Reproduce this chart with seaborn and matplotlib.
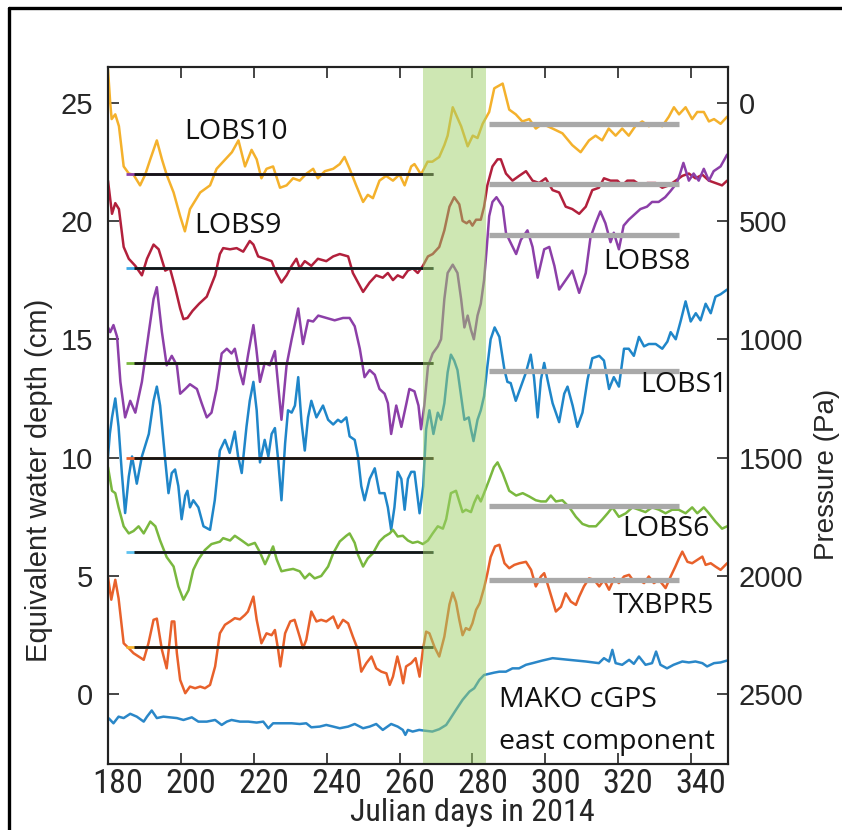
import numpy as np
import pandas as pd
import matplotlib
matplotlib.use("Agg")
import matplotlib.pyplot as plt
import matplotlib.transforms as mtransforms
from matplotlib import font_manager as fm
from matplotlib.textpath import TextPath
from matplotlib.lines import Line2D
import seaborn as sns

# ---------------- data ----------------
lobs10_day = [180.0, 180.6, 181.0, 182.0, 183.0, 184.3, 185.7, 187.0, 188.8, 190.2, 191.6, 193.4, 194.8, 196.1,
              198.0, 199.8, 201.1, 202.5, 205.3, 208.0, 209.8, 211.6, 214.0, 215.8, 217.6, 219.4, 220.8, 222.1,
              223.5, 225.3, 227.2, 229.0, 230.8, 232.6, 234.5, 236.3, 237.6, 239.5, 241.8, 243.6, 244.9, 246.3,
              248.1, 250.0, 251.3, 252.7, 254.5, 256.3, 258.2, 260.0, 261.4, 263.2, 264.1, 265.9, 267.7, 269.0,
              270.9, 272.3, 273.2, 274.6, 276.9, 278.7, 280.1, 281.4, 282.8, 284.6, 286.0, 288.3, 290.1, 291.9,
              293.7, 295.6, 297.4, 299.2, 302.0, 304.7, 307.4, 309.7, 312.0, 313.8, 315.6, 317.4, 319.3, 321.1,
              322.9, 324.7, 326.6, 328.4, 330.2, 332.1, 333.9, 335.3, 336.7, 338.5, 340.3, 341.7, 343.5, 344.9,
              346.3, 348.1, 349.9]
lobs10_val = [26.4, 25.0, 24.3, 24.5, 24.0, 22.3, 22.0, 21.95, 21.5, 21.95, 22.6, 23.4, 22.6, 21.95,
              21.2, 20.2, 19.56, 20.5, 21.2, 21.5, 22.2, 22.5, 22.9, 23.4, 22.3, 23.0, 22.6, 21.8,
              22.2, 22.3, 21.4, 21.5, 21.8, 21.7, 22.0, 22.2, 21.8, 22.1, 22.2, 22.4, 22.7, 22.2,
              21.5, 20.8, 21.1, 20.96, 21.7, 21.9, 21.7, 21.96, 21.5, 22.3, 22.4, 21.96, 22.5, 22.5,
              22.7, 23.2, 23.6, 24.8, 24.0, 23.15, 23.6, 23.5, 24.1, 24.6, 25.6, 25.8, 24.7, 24.5,
              24.2, 24.3, 23.9, 24.1, 23.9, 23.7, 23.2, 22.9, 23.4, 23.6, 23.4, 23.9, 23.6, 23.9,
              23.6, 24.0, 24.2, 24.0, 24.1, 24.0, 24.4, 24.8, 24.5, 24.8, 24.3, 24.6, 24.6, 24.2,
              24.3, 24.1, 24.4]

lobs9_day = [180.0, 181.1, 182.0, 183.0, 184.3, 185.7, 187.5, 189.3, 190.7, 192.5, 193.9, 195.7, 197.0, 198.4,
             199.8, 200.7, 201.8, 203.2, 205.0, 207.1, 209.4, 210.7, 211.6, 213.5, 215.3, 217.1, 218.9, 219.9,
             221.2, 223.1, 224.9, 226.2, 227.6, 229.0, 230.4, 231.7, 232.6, 234.0, 235.8, 237.6, 239.9, 241.8,
             243.6, 245.9, 247.2, 248.6, 250.0, 251.8, 253.6, 255.4, 256.8, 258.2, 259.5, 260.9, 262.3, 263.6,
             265.0, 266.4, 267.8, 269.1, 270.9, 272.3, 273.7, 275.0, 276.4, 277.3, 278.4, 279.2, 280.0, 281.0,
             282.3, 283.2, 284.1, 285.5, 286.9, 287.8, 289.2, 291.0, 292.8, 294.7, 296.5, 298.3, 300.1, 302.0,
             303.8, 305.6, 307.4, 309.3, 311.1, 312.9, 314.7, 316.1, 317.9, 319.8, 321.1, 322.5, 324.3, 326.2,
             328.0, 330.3, 332.1, 333.9, 335.8, 337.6, 339.4, 341.2, 343.1, 344.9, 346.7, 348.5, 349.9]
lobs9_val = [21.7, 20.3, 20.75, 20.5, 18.9, 18.4, 18.1, 17.7, 18.4, 19.0, 18.8, 17.9, 18.0, 17.2,
             16.3, 15.85, 15.9, 16.2, 16.5, 16.8, 17.7, 18.6, 18.85, 18.8, 18.85, 18.7, 19.15, 19.0,
             18.5, 18.4, 18.3, 17.8, 17.4, 17.7, 18.1, 18.4, 18.0, 18.3, 18.1, 18.4, 18.3, 18.5,
             18.6, 18.5, 17.8, 17.4, 17.0, 17.4, 17.7, 17.6, 17.8, 17.5, 17.7, 17.6, 17.9, 18.0,
             17.8, 18.1, 18.5, 18.6, 18.9, 19.6, 20.6, 21.0, 20.7, 20.0, 19.9, 20.0, 19.8, 20.05,
             20.05, 20.6, 21.5, 22.3, 22.6, 22.6, 22.0, 21.7, 21.9, 22.1, 21.7, 21.6, 21.8, 21.3,
             21.2, 20.6, 20.5, 20.3, 20.6, 21.3, 21.4, 21.8, 21.7, 21.7, 21.5, 21.7, 21.7, 21.5,
             21.6, 21.6, 21.4, 21.5, 21.7, 21.9, 22.0, 21.8, 21.95, 21.7, 21.6, 21.5, 21.7]

lobs8_day = [180.0, 180.6, 181.5, 182.5, 183.4, 184.7, 186.1, 187.5, 189.3, 191.2, 192.5, 193.4, 194.8, 196.1,
             197.5, 198.9, 199.8, 201.2, 202.5, 204.4, 205.7, 207.1, 208.4, 209.8, 211.2, 212.6, 213.9, 214.8,
             216.2, 217.1, 218.5, 219.9, 220.7, 221.7, 223.0, 224.4, 225.8, 227.6, 229.0, 230.4, 232.2, 233.5,
             234.9, 236.3, 237.7, 239.9, 242.2, 244.5, 246.3, 247.7, 249.1, 250.4, 251.8, 253.2, 254.5, 255.9,
             256.8, 257.7, 259.1, 260.5, 261.9, 262.7, 264.1, 265.2, 265.9, 266.8, 267.8, 269.1, 270.5, 271.4,
             272.3, 273.2, 274.6, 275.9, 276.9, 277.8, 278.7, 279.6, 280.4, 281.4, 282.3, 283.2, 283.9, 284.6,
             285.5, 286.6, 288.3, 289.2, 290.1, 292.0, 293.3, 295.1, 296.5, 297.9, 299.7, 301.1, 302.5, 303.8,
             305.6, 307.4, 309.3, 311.1, 312.4, 313.8, 315.1, 316.5, 317.9, 318.8, 320.2, 321.5, 322.9, 324.7,
             326.1, 327.9, 329.3, 331.1, 332.9, 334.3, 336.1, 337.0, 337.9, 339.4, 340.7, 342.1, 343.5, 344.9,
             346.2, 348.1, 349.9]
lobs8_val = [15.5, 15.3, 15.6, 15.1, 13.2, 11.7, 12.4, 11.9, 13.2, 15.3, 16.7, 17.2, 15.3, 13.9,
             14.3, 13.9, 12.7, 12.9, 13.1, 12.9, 12.3, 11.7, 11.9, 12.9, 14.4, 14.6, 14.4, 14.6,
             13.6, 13.1, 14.4, 15.6, 14.6, 13.2, 14.0, 13.9, 14.5, 11.6, 13.9, 15.0, 16.3, 14.8,
             15.8, 15.75, 16.0, 15.9, 15.8, 15.9, 15.9, 15.55, 14.6, 13.4, 13.7, 13.5, 12.9, 12.7,
             12.3, 11.0, 12.2, 11.3, 12.3, 12.9, 12.8, 12.2, 11.2, 12.2, 13.85, 14.4, 14.7, 15.0,
             16.7, 17.8, 18.15, 17.8, 16.7, 15.5, 16.0, 15.4, 15.0, 16.0, 16.5, 17.5, 18.8, 20.2,
             20.8, 21.0, 20.6, 19.5, 19.2, 18.6, 19.2, 19.6, 18.9, 17.6, 18.8, 18.9, 18.1, 17.1,
             17.5, 17.9, 16.96, 17.8, 19.3, 19.9, 20.4, 19.9, 19.1, 19.5, 18.8, 19.8, 20.05, 20.3,
             20.5, 20.6, 20.8, 20.8, 21.0, 21.25, 21.6, 22.0, 22.45, 21.7, 22.0, 21.7, 22.2, 21.7,
             22.1, 22.3, 22.8]

lobs1_day = [180.0, 180.5, 181.1, 182.0, 182.9, 183.8, 184.7, 185.7, 186.6, 187.9, 189.3, 191.2, 192.5, 193.4,
             194.3, 195.7, 196.6, 197.5, 198.4, 199.3, 200.2, 201.2, 201.8, 202.5, 203.4, 204.8, 206.2, 208.0,
             209.3, 210.7, 212.1, 213.4, 214.8, 215.7, 216.7, 218.0, 218.9, 219.9, 220.8, 221.7, 223.0, 224.0,
             224.9, 225.8, 226.7, 227.6, 228.6, 229.4, 230.4, 231.3, 232.2, 233.1, 234.0, 234.9, 235.8, 237.2,
             239.0, 240.4, 241.8, 243.1, 244.0, 245.4, 246.3, 247.7, 248.6, 249.5, 250.4, 251.8, 253.2, 254.5,
             255.9, 256.8, 257.7, 258.6, 259.5, 260.5, 261.4, 262.3, 263.2, 264.1, 265.5, 266.5, 267.3, 268.2,
             269.3, 270.5, 271.4, 272.3, 273.2, 274.1, 275.0, 275.9, 276.9, 277.8, 279.0, 279.6, 280.3, 281.4,
             282.3, 283.2, 284.1, 285.0, 286.1, 287.4, 288.8, 289.6, 290.5, 291.9, 293.3, 294.7, 296.0, 296.9,
             297.9, 298.8, 299.7, 300.6, 302.0, 303.8, 305.2, 306.1, 307.5, 308.8, 310.2, 311.6, 312.9, 314.8,
             316.1, 317.5, 318.8, 320.2, 321.6, 322.9, 324.3, 325.7, 327.1, 328.4, 330.3, 332.1, 333.5, 334.4,
             335.8, 337.2, 338.5, 339.9, 341.3, 342.6, 344.0, 345.4, 346.7, 348.1, 349.9]
lobs1_val = [10.05, 11.0, 11.7, 12.5, 11.3, 9.35, 7.66, 9.2, 10.05, 8.9, 10.05, 11.0, 12.4, 13.0,
             12.2, 9.9, 8.5, 9.35, 9.5, 8.8, 7.4, 8.4, 8.6, 7.9, 8.2, 7.9, 7.1, 6.95,
             8.2, 10.3, 10.75, 10.2, 11.1, 10.05, 9.35, 11.3, 12.4, 13.2, 12.0, 9.8, 10.75, 10.05,
             11.0, 11.25, 9.9, 8.2, 10.6, 12.0, 11.9, 12.2, 13.4, 11.5, 10.3, 11.7, 12.4, 11.7,
             12.2, 11.6, 11.4, 11.6, 11.5, 11.7, 10.9, 10.75, 10.05, 8.8, 8.2, 9.1, 9.55, 8.5,
             8.5, 7.9, 6.95, 7.9, 9.4, 9.1, 7.8, 9.1, 9.4, 9.4, 7.65, 8.8, 11.2, 12.0,
             11.0, 11.9, 11.6, 12.3, 13.6, 14.35, 14.1, 13.7, 12.6, 11.6, 11.7, 11.2, 10.7, 11.6,
             12.0, 12.6, 13.85, 15.0, 15.5, 15.1, 13.7, 13.2, 13.15, 12.4, 13.0, 13.6, 14.35, 13.4,
             11.7, 13.3, 14.0, 13.3, 12.3, 11.5, 12.7, 13.0, 12.2, 11.3, 11.9, 13.3, 14.2, 14.3,
             14.1, 12.9, 13.4, 13.0, 14.6, 14.6, 14.3, 15.1, 14.7, 14.8, 14.8, 14.6, 14.9, 15.3,
             15.0, 15.8, 16.6, 15.75, 16.1, 15.8, 16.5, 16.1, 16.8, 16.9, 17.1]

lobs6_day = [180.0, 181.1, 182.0, 182.9, 184.3, 185.7, 187.0, 188.4, 189.8, 191.6, 193.0, 194.3, 196.1, 198.0,
             199.3, 200.7, 202.1, 203.4, 204.8, 206.6, 208.4, 210.7, 211.6, 213.5, 214.8, 216.7, 218.5, 220.3,
             221.7, 223.1, 224.0, 225.3, 226.3, 227.6, 229.0, 230.8, 232.6, 234.0, 235.3, 236.7, 238.5, 240.4,
             241.8, 243.6, 245.4, 246.3, 247.7, 248.6, 250.0, 251.3, 252.7, 254.5, 255.9, 257.3, 258.2, 259.5,
             260.9, 262.3, 263.6, 265.0, 266.4, 267.8, 269.1, 270.5, 271.9, 272.8, 274.1, 275.5, 276.4, 277.3,
             278.2, 279.6, 280.5, 281.4, 282.3, 283.2, 284.6, 285.9, 286.9, 288.3, 290.1, 292.0, 293.8, 295.6,
             297.4, 298.8, 300.2, 301.5, 302.9, 304.7, 306.6, 308.4, 310.2, 312.0, 313.9, 315.7, 317.1, 318.4,
             320.2, 322.1, 323.9, 325.7, 327.5, 329.3, 331.2, 333.0, 334.8, 336.6, 338.5, 340.3, 341.7, 343.5,
             344.9, 346.7, 348.5, 349.9]
lobs6_val = [9.6, 8.6, 8.5, 7.9, 7.1, 6.8, 6.9, 7.1, 6.8, 7.3, 7.1, 6.5, 5.8, 5.4,
             4.56, 4.0, 4.4, 5.26, 5.7, 6.1, 6.35, 6.45, 6.6, 6.5, 6.7, 6.5, 6.3, 6.4,
             6.0, 5.5, 5.8, 6.25, 5.7, 5.2, 5.25, 5.3, 5.2, 4.9, 5.1, 4.9, 5.0, 5.4,
             5.96, 6.46, 6.7, 6.8, 6.4, 5.9, 5.4, 5.75, 5.96, 6.46, 6.67, 6.8, 6.95, 6.67,
             6.7, 6.5, 6.4, 6.45, 6.35, 6.5, 6.8, 7.1, 7.0, 7.4, 8.5, 8.6, 8.15, 7.7,
             7.8, 7.7, 8.1, 8.4, 8.15, 8.5, 9.06, 9.6, 9.8, 9.34, 8.6, 8.4, 8.5, 8.36,
             8.2, 8.15, 8.15, 8.4, 8.15, 8.2, 7.9, 7.5, 7.2, 7.1, 7.1, 7.4, 7.65, 7.9,
             7.5, 7.65, 7.9, 7.8, 7.7, 7.9, 7.8, 7.65, 7.8, 7.8, 7.65, 7.9, 7.65, 7.9,
             7.65, 7.3, 7.0, 7.1]

txbpr5_day = [180.0, 180.9, 182.0, 182.9, 184.3, 185.7, 187.0, 188.4, 189.8, 191.1, 192.5, 193.4, 194.8, 196.1,
              197.5, 198.2, 198.9, 199.8, 201.2, 202.5, 203.9, 205.3, 206.6, 208.0, 209.4, 210.7, 212.1, 213.5,
              214.8, 216.2, 217.6, 218.4, 219.9, 220.8, 222.1, 223.5, 224.9, 225.8, 226.7, 227.3, 228.6, 230.0,
              231.2, 232.6, 233.5, 234.4, 235.8, 237.2, 238.5, 239.9, 241.8, 243.1, 244.5, 245.9, 247.2, 248.6,
              249.5, 250.9, 252.3, 253.6, 255.0, 256.4, 257.3, 258.2, 259.4, 260.3, 261.0, 261.8, 263.2, 264.4,
              265.5, 266.4, 267.3, 268.2, 269.6, 270.9, 272.3, 273.7, 274.6, 275.5, 276.4, 277.3, 278.2, 279.2,
              280.0, 281.0, 282.0, 283.2, 284.1, 285.0, 286.2, 287.4, 288.8, 290.1, 291.5, 292.9, 294.7, 296.1,
              297.4, 298.8, 299.7, 301.1, 302.9, 304.3, 305.6, 307.0, 308.4, 309.3, 310.6, 312.0, 313.4, 314.8,
              316.1, 317.5, 318.9, 320.2, 321.6, 323.0, 324.3, 325.7, 327.1, 328.4, 329.8, 331.2, 333.0, 334.4,
              335.7, 336.7, 337.6, 339.0, 340.3, 341.7, 343.1, 344.0, 345.4, 346.7, 348.1, 349.9]
txbpr5_val = [4.95, 4.0, 4.84, 4.06, 2.16, 1.95, 1.74, 1.6, 1.46, 2.16, 3.15, 3.2, 1.88, 1.1,
              3.08, 3.08, 1.74, 0.61, 0.05, 0.33, 0.26, 0.33, 0.26, 0.4, 1.18, 2.58, 2.94, 3.08,
              3.22, 3.17, 3.36, 3.5, 4.13, 3.15, 2.16, 2.58, 2.5, 2.72, 1.88, 1.18, 2.58, 3.08,
              3.15, 2.44, 1.95, 2.3, 3.5, 3.08, 3.15, 3.08, 3.29, 2.8, 3.15, 3.0, 2.44, 1.88,
              0.96, 1.32, 1.6, 1.1, 0.96, 0.89, 0.4, 0.75, 1.6, 1.04, 0.47, 1.18, 1.32, 1.53,
              0.75, 1.88, 2.65, 2.58, 2.0, 1.6, 2.44, 3.8, 4.3, 3.9, 3.15, 2.5, 2.8, 2.72,
              3.0, 3.57, 3.85, 4.5, 5.1, 5.8, 6.25, 6.32, 5.54, 5.33, 5.47, 5.54, 5.6, 5.26,
              4.56, 4.98, 5.12, 4.42, 3.5, 3.7, 4.27, 3.92, 3.78, 4.13, 4.56, 4.9, 4.84, 4.56,
              4.84, 4.42, 4.9, 4.7, 4.98, 5.05, 4.77, 4.84, 4.7, 4.98, 4.7, 4.84, 4.49, 4.98,
              5.4, 5.75, 6.03, 5.6, 5.54, 5.68, 5.82, 5.47, 5.54, 5.4, 5.26, 5.54]

mako_day = [180.2, 181.5, 182.9, 184.3, 186.1, 187.9, 189.8, 190.7, 192.0, 193.4, 195.2, 197.0, 198.9, 200.7,
            203.0, 204.8, 207.1, 209.4, 211.2, 212.6, 213.9, 216.2, 218.5, 220.8, 222.6, 224.0, 225.3, 227.6,
            230.4, 232.6, 234.4, 235.8, 238.1, 239.9, 241.8, 243.6, 245.9, 247.7, 250.0, 251.8, 253.6, 255.4,
            257.7, 259.5, 260.9, 261.6, 262.3, 263.6, 265.4, 266.8, 269.0, 270.9, 272.8, 273.7, 275.5, 277.3,
            279.2, 280.5, 281.9, 283.2, 284.6, 286.0, 287.4, 289.2, 291.0, 292.8, 294.7, 296.5, 299.2, 302.0,
            306.5, 311.1, 314.7, 316.1, 317.5, 318.4, 319.3, 321.1, 323.0, 324.3, 325.7, 327.5, 329.3, 330.4,
            331.6, 333.4, 335.2, 337.6, 339.4, 341.2, 343.1, 344.4, 346.3, 348.1, 349.9]
mako_val = [-1.01, -1.22, -0.94, -1.0, -0.82, -0.94, -1.15, -0.94, -0.68, -1.0, -0.94, -0.97, -1.0, -1.08,
            -0.97, -1.15, -1.15, -1.08, -1.29, -1.15, -1.08, -1.15, -1.15, -1.19, -1.15, -1.43, -1.22, -1.22,
            -1.22, -1.25, -1.22, -1.39, -1.36, -1.29, -1.36, -1.43, -1.36, -1.25, -1.43, -1.36, -1.25, -1.5,
            -1.25, -1.36, -1.5, -1.71, -1.5, -1.57, -1.5, -1.53, -1.57, -1.47, -1.29, -1.08, -0.65, -0.23,
            0.12, 0.26, 0.61, 0.82, 0.87, 0.92, 0.96, 0.96, 1.1, 1.1, 1.25, 1.32, 1.43, 1.53,
            1.46, 1.39, 1.32, 1.53, 1.39, 1.88, 1.32, 1.25, 1.46, 1.29, 1.6, 1.25, 1.32, 1.81,
            1.25, 1.1, 1.25, 1.39, 1.35, 1.39, 1.32, 1.18, 1.32, 1.35, 1.43]

stations = ["LOBS10", "LOBS9", "LOBS8", "LOBS1", "LOBS6", "TXBPR5", "MAKO"]
station_days = [lobs10_day, lobs9_day, lobs8_day, lobs1_day, lobs6_day, txbpr5_day, mako_day]
station_vals = [lobs10_val, lobs9_val, lobs8_val, lobs1_val, lobs6_val, txbpr5_val, mako_val]

# reference levels (cm)
pre_levels = [22, 18, 14, 10, 6, 2]
post_levels = [24.1, 21.55, 19.4, 13.65, 7.95, 4.85]

label_texts = ["LOBS10", "LOBS9", "LOBS8", "LOBS1", "LOBS6", "TXBPR5"]
label_days = [215.1, 215.7, 327.9, 338.0, 333.1, 332.3]
label_vals = [23.77, 19.8, 18.27, 13.08, 6.99, 3.74]

pressure_ticks = [0, 500, 1000, 1500, 2000, 2500]
x_ticks = [180, 200, 220, 240, 260, 280, 300, 320, 340]
y_ticks = [0, 5, 10, 15, 20, 25]

# ---------------- styling ----------------
sns.set_style("ticks")
plt.rcParams["font.family"] = ["Liberation Sans", "DejaVu Sans"]


def pick_narrow_font():
    entries = fm.fontManager.ttflist

    def ok(e):
        return e.style == "normal" and str(e.weight) in ("400", "normal", "regular", "book")

    for name in ["Liberation Sans Narrow", "Arial Narrow", "Roboto Condensed",
                 "Open Sans Condensed", "Noto Sans Condensed", "DejaVu Sans Condensed"]:
        for e in entries:
            if e.name == name and ok(e):
                return e.fname
    for fam in ["Noto Sans", "Open Sans", "Roboto", "DejaVu Sans", "Liberation Sans"]:
        for st in ["extra-condensed", "condensed", "semi-condensed"]:
            for e in entries:
                if e.name == fam and e.stretch == st and ok(e):
                    return e.fname
    return None


narrow_path = pick_narrow_font()


def fitted_props(sample, target_w_px, target_h_px):
    """Font size so that the glyphs of `sample` are at most target width / height (pixels at 100 dpi)."""
    if narrow_path:
        fp = fm.FontProperties(fname=narrow_path, size=20)
    else:
        fp = fm.FontProperties(family="Liberation Sans", size=20)
    ext = TextPath((0, 0), sample, size=20, prop=fp).get_extents()
    w_px = ext.width * 100 / 72
    h_px = ext.height * 100 / 72
    size = min(20 * target_w_px / w_px, 20 * target_h_px / h_px)
    fp = fp.copy()
    fp.set_size(size)
    return fp


tick_fp = fitted_props("180", 50, 25)
xlabel_fp = fitted_props("Julian days in 2014", 255, 31)

colors = {"LOBS10": "#F4B12C", "LOBS9": "#B2203C", "LOBS8": "#8C3FA8", "LOBS1": "#1F86C9",
          "LOBS6": "#7AB83F", "TXBPR5": "#E8612B", "MAKO": "#2A87C8"}
stub_colors = ["#8C3FA8", "#3FA9E6", "#7AB83F", "#E8612B", "#5EC2F0", "#F4B12C"]

rows = []
for st, d, v in zip(stations, station_days, station_vals):
    for di, vi in zip(d, v):
        rows.append((st, di, vi))
df = pd.DataFrame(rows, columns=["station", "day", "value"])

fig = plt.figure(figsize=(8.42, 8.30), dpi=100)
ax = fig.add_axes([108 / 842, 1 - 764 / 830, (727.5 - 108) / 842, (764 - 67) / 830])

sns.lineplot(data=df, x="day", y="value", hue="station", palette=colors, estimator=None,
             sort=False, legend=False, linewidth=1.8, ax=ax, zorder=3)
for ln in ax.get_lines():
    ln.set_solid_joinstyle("round")

for lvl, sc in zip(pre_levels, stub_colors):
    ax.plot([185.0, 269.3], [lvl, lvl], color=sc, lw=2.0, zorder=3.5, solid_capstyle="butt")
    ax.plot([187.2, 269.3], [lvl, lvl], color="#151515", lw=2.0, zorder=3.6, solid_capstyle="butt")
for lvl in post_levels:
    ax.plot([284.5, 336.7], [lvl, lvl], color="#A9A9A9", lw=3.8, zorder=3.6, solid_capstyle="butt")

ax.axvspan(266.5, 283.8, color="#9fd169", alpha=0.5, lw=0, zorder=5)

ax.set_xlim(180, 350)
ax.set_ylim(-2.94, 26.5)
ax.set_xticks(x_ticks)
ax.set_xticklabels([str(v) for v in x_ticks], fontproperties=tick_fp)
ax.set_yticks(y_ticks)

lab_font = ["Open Sans", "DejaVu Sans"]
for t, d, v in zip(label_texts, label_days, label_vals):
    ax.text(d, v, t, ha="center", va="center", fontsize=20.5, family=lab_font, color="#111111", zorder=6)
ax.text(287.4, -0.25, "MAKO cGPS", ha="left", va="center", fontsize=20.5, family=lab_font,
        color="#111111", zorder=6)
ax.text(287.4, -2.0, "east component", ha="left", va="center", fontsize=20.5, family=lab_font,
        color="#111111", zorder=6)

ax.tick_params(axis="x", direction="in", length=8, width=1.2, top=True, bottom=True, pad=3)
ax.tick_params(axis="y", direction="in", length=8, width=1.2, left=True, right=False, labelsize=21, pad=11)
offset = mtransforms.ScaledTranslation(10 / 100, 0, fig.dpi_scale_trans)
for lab in ax.get_xticklabels():
    lab.set_transform(lab.get_transform() + offset)

ax.set_xlabel("Julian days in 2014", fontproperties=xlabel_fp)
ax.xaxis.label.set_va("baseline")
ax.xaxis.set_label_coords(0.588, (764 - 821) / 697)
ax.set_ylabel("Equivalent water depth (cm)", fontsize=21)
ax.yaxis.set_label_coords(-0.088, 0.407)

ax2 = ax.twinx()
ax2.set_ylim((25 - (-2.94)) * 100, (25 - 26.5) * 100)
ax2.set_yticks(pressure_ticks)
ax2.tick_params(axis="y", direction="in", length=8, width=1.2, right=True, labelsize=21, pad=8)
ax2.set_ylabel("Pressure (Pa)", fontsize=20)
ax2.yaxis.set_label_coords(1.14, 0.415)

for a in (ax, ax2):
    for s in a.spines.values():
        s.set_linewidth(1.5)
        s.set_color("#222222")
        s.set_visible(True)

# outer frame (left and top edges of the panel)
fig.add_artist(Line2D([9 / 842, 9 / 842], [0, 1 - 8 / 830], transform=fig.transFigure, color="black", lw=2.4))
fig.add_artist(Line2D([9 / 842, 1], [1 - 8 / 830, 1 - 8 / 830], transform=fig.transFigure, color="black", lw=2.4))

fig.savefig("out.png", dpi=100)
